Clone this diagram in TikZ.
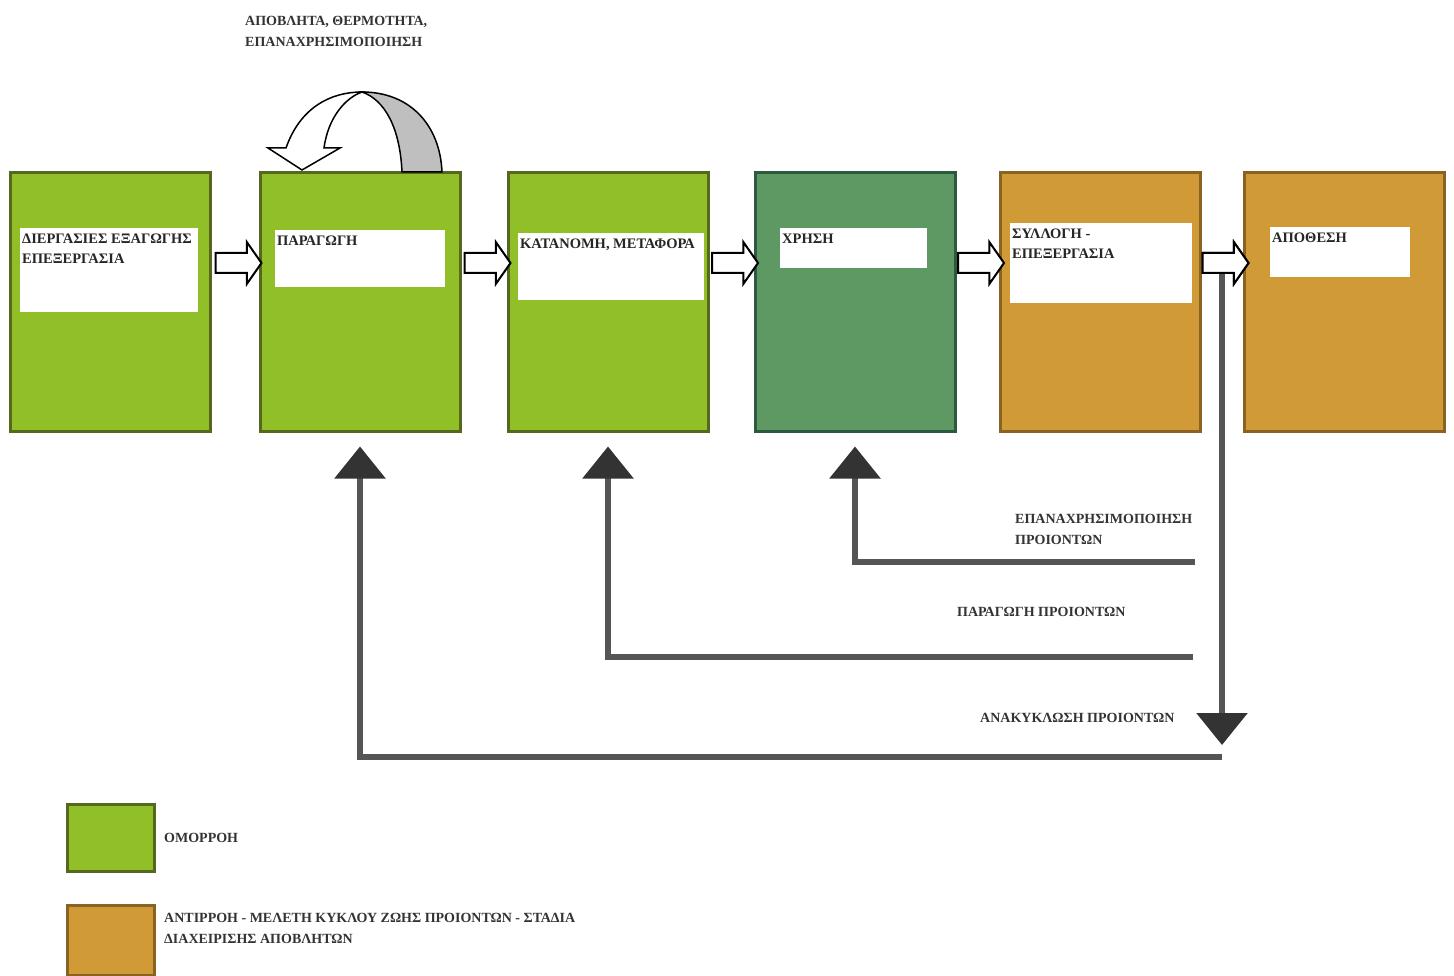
\documentclass[tikz,border=0pt]{standalone}
\usepackage{fontspec}
\setmainfont{Liberation Serif}
\usetikzlibrary{positioning,calc,shapes.arrows,arrows.meta}

\definecolor{homfill}{HTML}{90BF28}
\definecolor{homline}{HTML}{56681E}
\definecolor{usefill}{HTML}{5E9862}
\definecolor{useline}{HTML}{2C5A3E}
\definecolor{antifill}{HTML}{D09A36}
\definecolor{antiline}{HTML}{8A6322}
\definecolor{fbgray}{HTML}{555555}

\tikzset{
  stage/.style={draw, line width=3pt, minimum width=200pt, minimum height=258pt, inner sep=0pt},
  homstage/.style={fill=homfill, draw=homline},
  usestage/.style={fill=usefill, draw=useline},
  antistage/.style={fill=antifill, draw=antiline},
  tag/.style={fill=white, inner sep=0pt, anchor=north west},
  tagtext/.style={anchor=north west, inner xsep=2pt, inner ysep=6pt, align=left, text=black!85,
    font=\bfseries\fontsize{14.5}{20}\selectfont},
  note/.style={inner sep=2pt, align=left, text=black!80,
    font=\bfseries\fontsize{14}{21}\selectfont},
  flow/.style={single arrow, draw=black, line width=2pt, fill=white, inner sep=9pt,
    minimum height=46pt, single arrow head extend=11pt, single arrow tip angle=110,
    single arrow head indent=0pt},
  fb/.style={draw=fbgray, line width=6pt,
    -{Triangle[width=50pt,length=32pt,color=black!80]}}
}

\begin{document}
\begin{tikzpicture}[x=1pt,y=-1pt]
\useasboundingbox (0,0) rectangle (1454,976);

% life cycle stages
\node[stage, homstage] (b1) at (110,302) {};
\node[stage, homstage, right=47pt of b1] (b2) {};
\node[stage, homstage, right=45pt of b2] (b3) {};
\node[stage, usestage, right=44pt of b3] (b4) {};
\node[stage, antistage, right=42pt of b4] (b5) {};
\node[stage, antistage, right=41pt of b5] (b6) {};

% white tags with the stage names
\node[tag, minimum width=178pt, minimum height=84pt] (t1) at (20,228) {};
\node[tagtext] at (t1.north west) {ΔΙΕΡΓΑΣΙΕΣ ΕΞΑΓΩΓΗΣ\\ΕΠΕΞΕΡΓΑΣΙΑ};
\node[tag, minimum width=170pt, minimum height=57pt] (t2) at (275,230) {};
\node[tagtext] at (t2.north west) {ΠΑΡΑΓΩΓΗ};
\node[tag, minimum width=186pt, minimum height=67pt] (t3) at (518,233) {};
\node[tagtext] at (t3.north west) {ΚΑΤΑΝΟΜΗ, ΜΕΤΑΦΟΡΑ};
\node[tag, minimum width=147pt, minimum height=40pt] (t4) at (780,228) {};
\node[tagtext] at (t4.north west) {ΧΡΗΣΗ};
\node[tag, minimum width=182pt, minimum height=80pt] (t5) at (1010,223) {};
\node[tagtext] at (t5.north west) {ΣΥΛΛΟΓΗ -\\ΕΠΕΞΕΡΓΑΣΙΑ};
\node[tag, minimum width=140pt, minimum height=50pt] (t6) at (1270,227) {};
\node[tagtext] at (t6.north west) {ΑΠΟΘΕΣΗ};

% feedback lines
\coordinate (r1) at (1195,562);
\coordinate (r2) at (1193,657);
\coordinate (r3) at (0,745);
\coordinate (r4) at (0,757);
\node[flow, yshift=39pt] (f56) at ($(b5.east)!.5!(b6.west)$) {};
\draw[fb] (f56.center) -- (f56 |- r3);
\draw[fb] (r1) -| ([yshift=-14pt]b4.south);
\draw[fb] (r2) -| ([yshift=-14pt]b3.south);
\draw[fb] (f56 |- r4) -| ([yshift=-14pt]b2.south);

% forward flow arrows
\node[flow, yshift=39pt] (f12) at ($(b1.east)!.5!(b2.west)$) {};
\node[flow, yshift=39pt] (f23) at ($(b2.east)!.5!(b3.west)$) {};
\node[flow, yshift=39pt] (f34) at ($(b3.east)!.5!(b4.west)$) {};
\node[flow, yshift=39pt] (f45) at ($(b4.east)!.5!(b5.west)$) {};
\node[flow, yshift=39pt] at ($(b5.east)!.5!(b6.west)$) {};

% curved arrow over production
\draw[line width=1.5pt, fill=white] (286,148) .. controls (300,108) and (330,92) .. (362,92)
  .. controls (345,98) and (328,118) .. (324,148) -- (340,148) -- (302,170) -- (268,148) -- cycle;
\draw[line width=1.5pt, fill=black!25] (362,92) .. controls (410,92) and (440,125) .. (442,172)
  -- (402,172) .. controls (400,128) and (385,100) .. (362,92) -- cycle;

% labels
\node[note, anchor=north west] at (243,14) {ΑΠΟΒΛΗΤΑ, ΘΕΡΜΟΤΗΤΑ,\\ΕΠΑΝΑΧΡΗΣΙΜΟΠΟΙΗΣΗ};
\node[note, anchor=north west] at (1013,512) {ΕΠΑΝΑΧΡΗΣΙΜΟΠΟΙΗΣΗ\\ΠΡΟΙΟΝΤΩΝ};
\node[note, anchor=north west] at (955,605) {ΠΑΡΑΓΩΓΗ ΠΡΟΙΟΝΤΩΝ};
\node[note, anchor=north west] at (978,711) {ΑΝΑΚΥΚΛΩΣΗ ΠΡΟΙΟΝΤΩΝ};

% legend
\node[stage, homstage, minimum width=87pt, minimum height=67pt] (k1) at (111,838) {};
\node[note, right=6pt of k1] {ΟΜΟΡΡΟΗ};
\node[stage, antistage, minimum width=87pt, minimum height=70pt] (k2) at (111,940) {};
\node[note, anchor=north west] at ([xshift=6pt,yshift=-8pt]k2.north east)
  {ΑΝΤΙΡΡΟΗ - ΜΕΛΕΤΗ ΚΥΚΛΟΥ ΖΩΗΣ ΠΡΟΙΟΝΤΩΝ - ΣΤΑΔΙΑ\\ΔΙΑΧΕΙΡΙΣΗΣ ΑΠΟΒΛΗΤΩΝ};
\end{tikzpicture}
\end{document}
